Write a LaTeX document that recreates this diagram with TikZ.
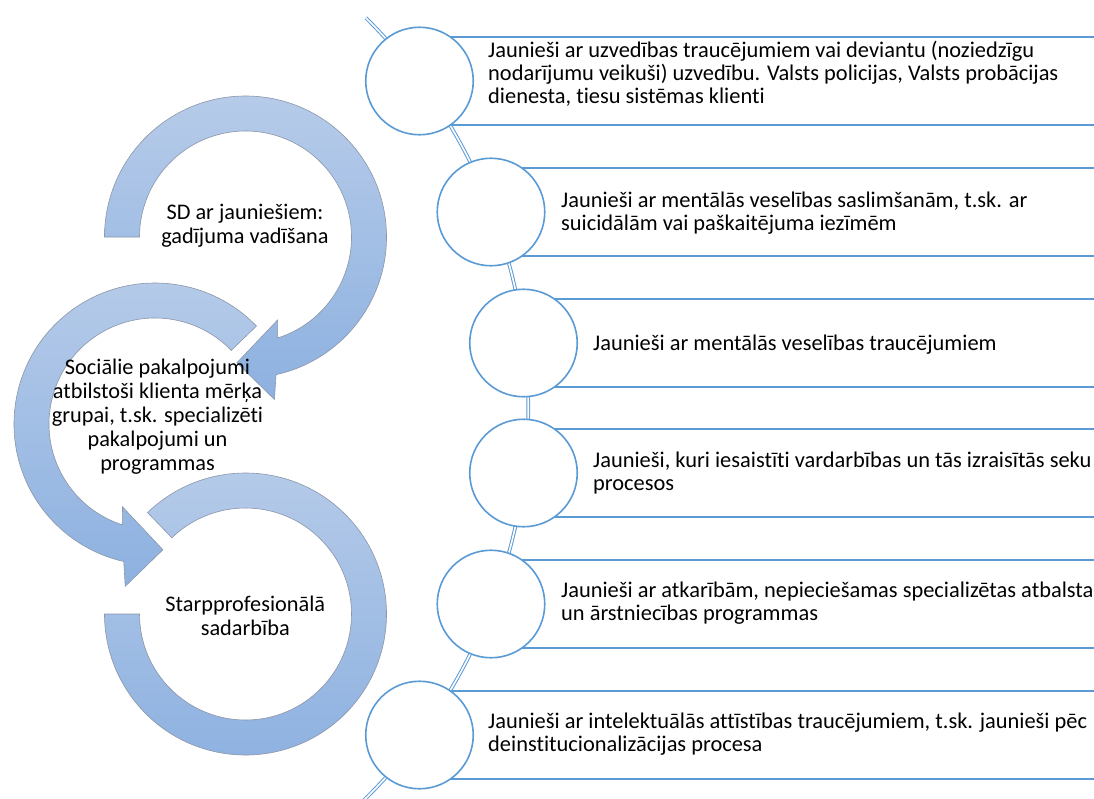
\documentclass[tikz,border=0pt]{standalone}
\usepackage{fontspec}
\setmainfont{Carlito}[Ligatures=NoCommon]
\usetikzlibrary{calc}
\definecolor{ablue}{RGB}{91,155,213}
\definecolor{ringtop}{RGB}{182,203,233}
\definecolor{ringbot}{RGB}{141,177,224}
\definecolor{ringedge}{RGB}{140,150,168}
\begin{document}
\begin{tikzpicture}[x=1pt,y=-1pt,
 bubble/.style={circle,draw=ablue,line width=1.6pt,fill=white,minimum size=107.5pt,inner sep=0pt},
 bandline/.style={draw=ablue,line width=2pt},
 spine/.style={draw=ablue,line width=1pt,double=white,double distance=1.6pt},
 ring/.style={top color=ringtop,bottom color=ringbot,draw=ringedge,line width=0.6pt},
 itemtext/.style={anchor=base west,align=left,inner sep=0pt,font=\fontsize{22.4}{22.8}\selectfont},
 ringtext/.style={anchor=base,align=center,inner sep=0pt,font=\fontsize{22.3}{24}\selectfont}]
\useasboundingbox (0,0) rectangle (1094,798);
\clip (0,0) rectangle (1094,798);
\fill[white] (0,0) rectangle (1094,798);

% ---- left: circular arrows ----
\coordinate (C1) at (245.5,237);
\coordinate (C2) at (155,424);
\coordinate (C3) at (245.5,614);

\path[ring] ($(C1)+(180:141)$) arc[start angle=180,end angle=437.5,radius=141]
  -- ($(C1)+(439.9:165)$) -- ($(C1)+(453.9:126)$) -- ($(C1)+(428.9:89)$)
  -- ($(C1)+(432.3:106)$) arc[start angle=432.3,end angle=180,radius=106] -- cycle;

\path[ring] ($(C2)+(316:141)$) arc[start angle=316,end angle=102.8,radius=141]
  -- ($(C2)+(100.4:165)$) -- ($(C2)+(86.4:126)$) -- ($(C2)+(111.4:89)$)
  -- ($(C2)+(108:106)$) arc[start angle=108,end angle=316,radius=106] -- cycle;

\path[ring] ($(C3)+(226:141)$) arc[start angle=226,end angle=540,radius=141]
  -- ($(C3)+(540:106)$) arc[start angle=540,end angle=226,radius=106] -- cycle;

\node[ringtext] (l1) at (245,243) {SD ar jauniešiem:\\gadījuma vadīšana};
\node[ringtext] (l2) at (157.5,470) {Sociālie pakalpojumi\\atbilstoši klienta mērķa\\grupai, t.sk. specializēti\\pakalpojumi un\\programmas};
\node[ringtext] (l3) at (245.3,635) {Starpprofesionālā\\sadarbība};

% ---- right: vertical circle list ----
\draw[spine] (-21.7,408) ++(-45.2:550) arc[start angle=-45.2,end angle=46,radius=550];

\foreach \i/\cx/\cy in {1/419.5/81,2/491/212,3/523.5/343,4/523.5/473,5/491/604,6/419.5/735}{
  \draw[bandline] (\cx,\cy-44) -- (1100,\cy-44);
  \draw[bandline] (\cx,\cy+44) -- (1100,\cy+44);
  \node[bubble] (c\i) at (\cx,\cy) {};
}

\node[itemtext] (t1) at (488,103) {Jaunieši ar uzvedības traucējumiem vai deviantu (noziedzīgu\\nodarījumu veikuši) uzvedību. Valsts policijas, Valsts probācijas\\dienesta, tiesu sistēmas klienti};
\node[itemtext] (t2) at (561,230) {Jaunieši ar mentālās veselības saslimšanām, t.sk. ar\\suicidālām vai paškaitējuma iezīmēm};
\node[itemtext] (t3) at (593,350) {Jaunieši ar mentālās veselības traucējumiem};
\node[itemtext] (t4) at (593,490) {Jaunieši, kuri iesaistīti vardarbības un tās izraisītās seku\\procesos};
\node[itemtext] (t5) at (561,620.7) {Jaunieši ar atkarībām, nepieciešamas specializētas atbalsta\\un ārstniecības programmas};
\node[itemtext] (t6) at (488,751.7) {Jaunieši ar intelektuālās attīstības traucējumiem, t.sk. jaunieši pēc\\deinstitucionalizācijas procesa};
\end{tikzpicture}
\end{document}
